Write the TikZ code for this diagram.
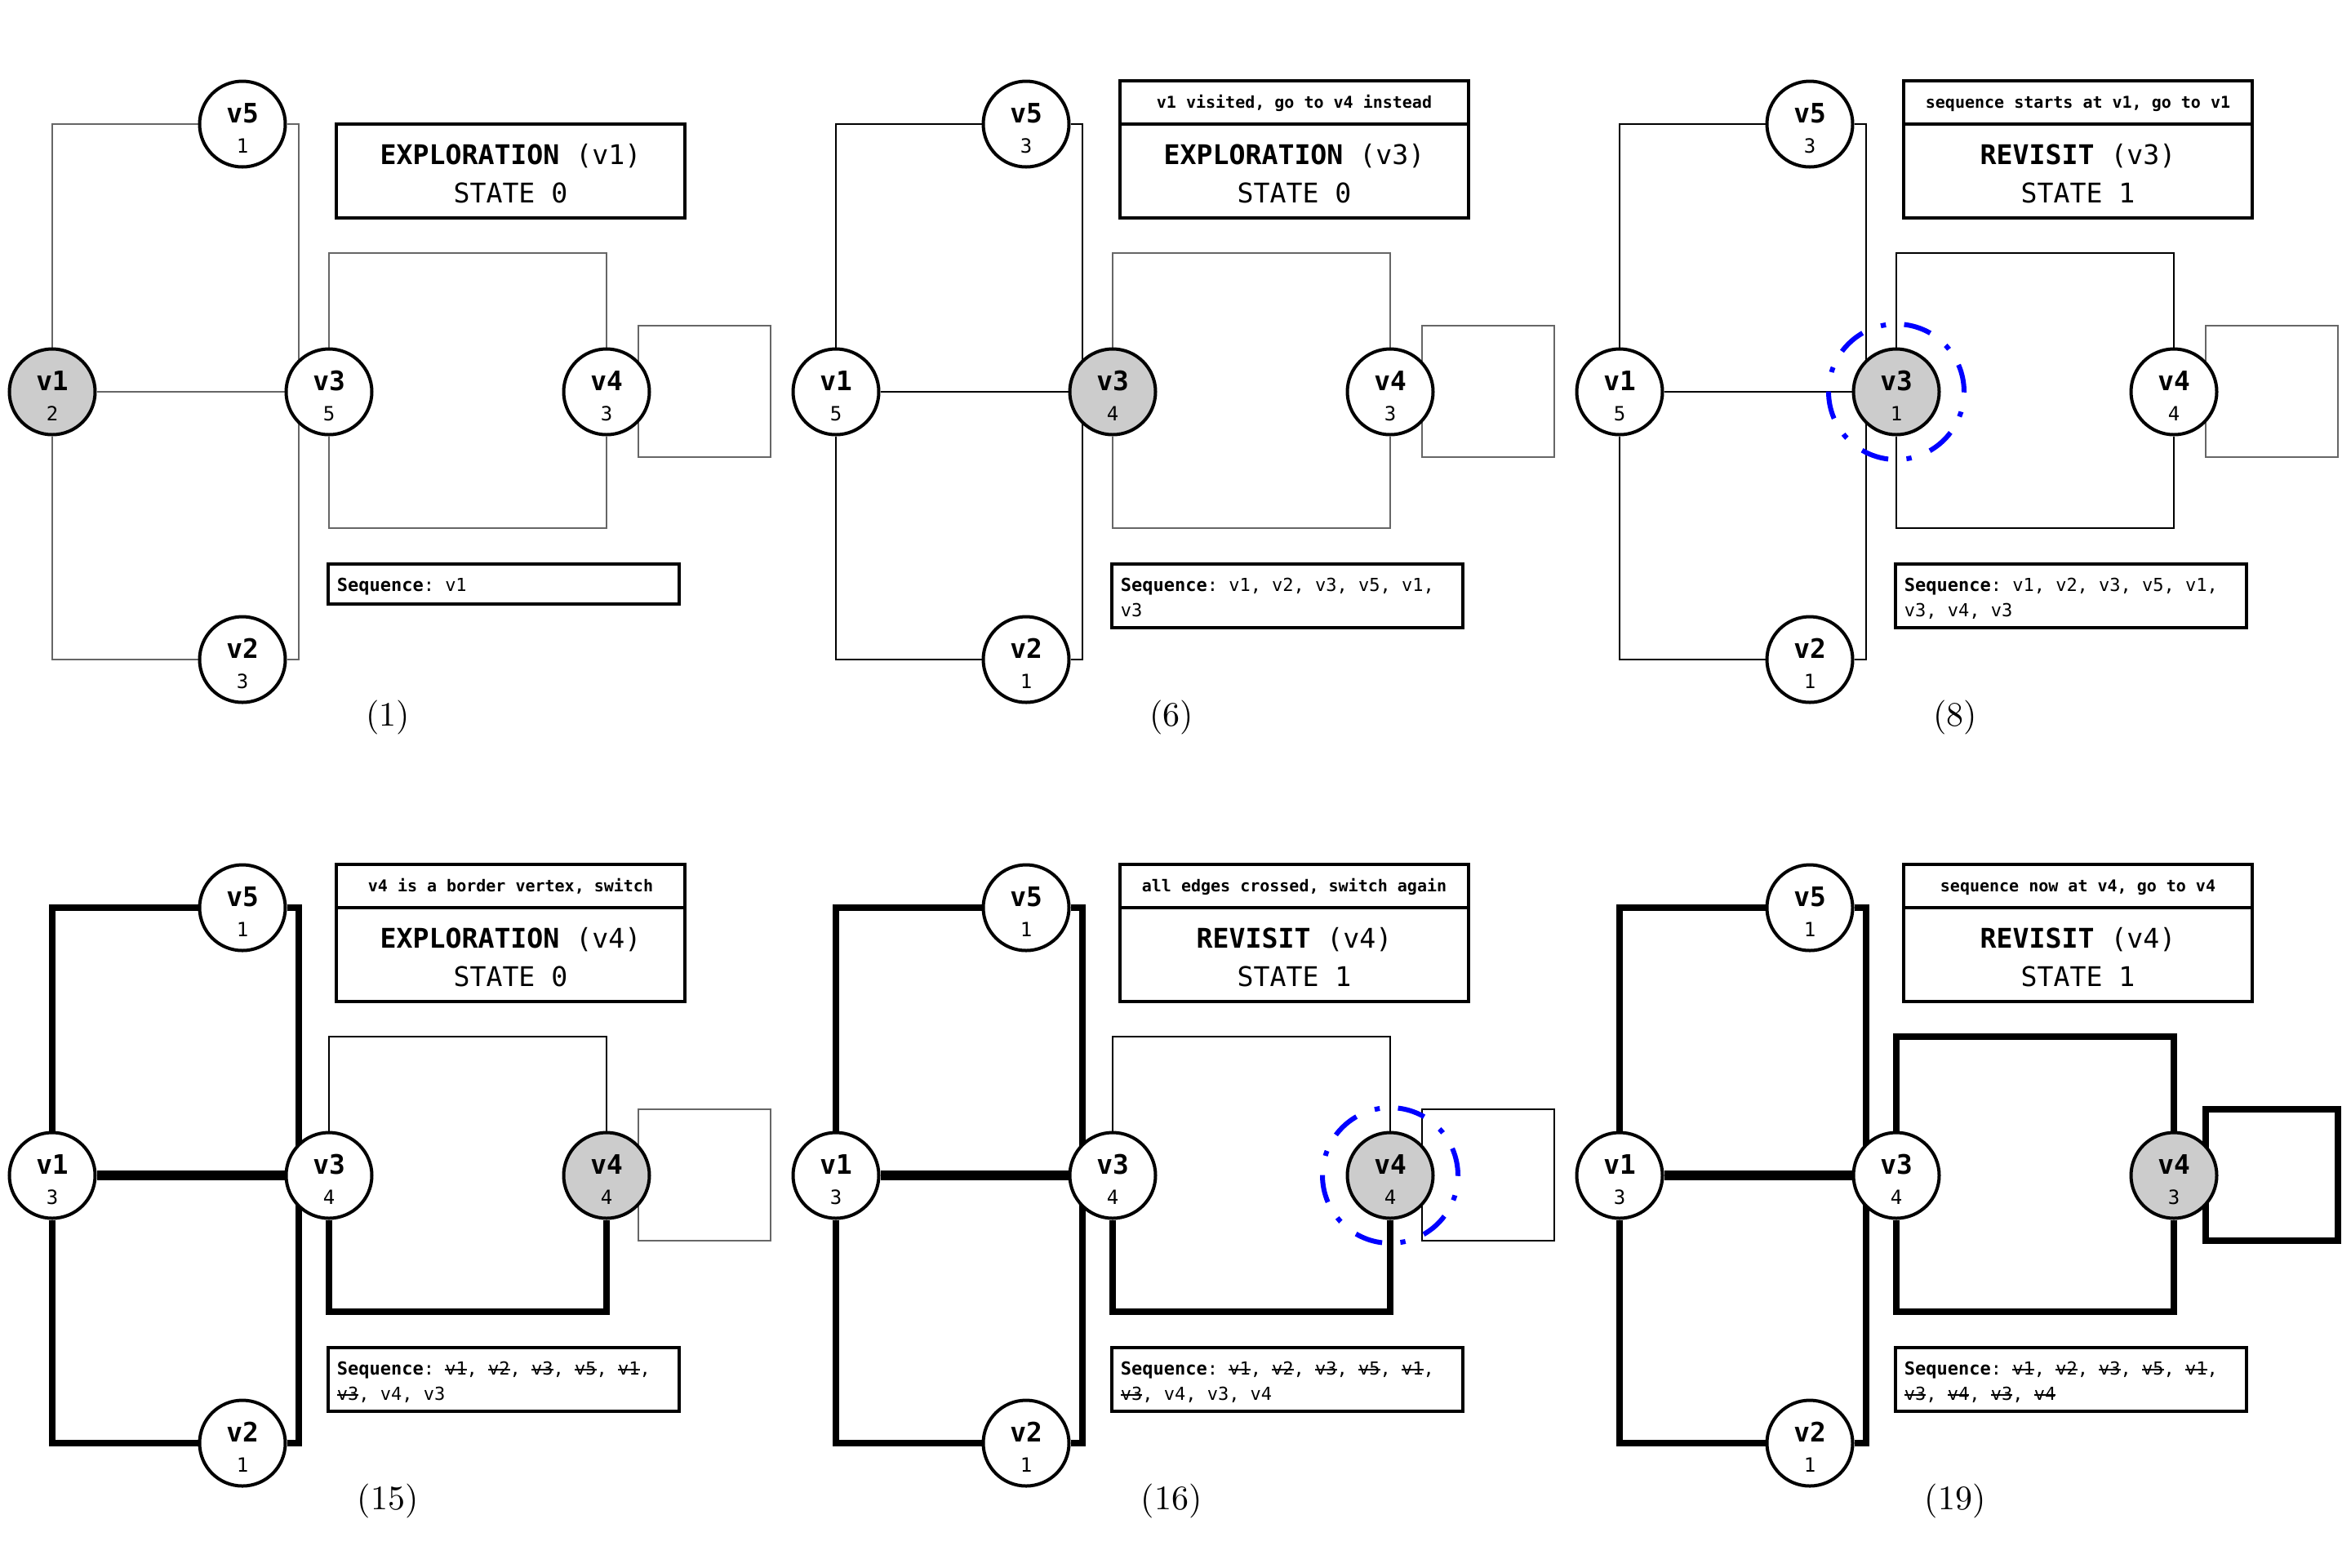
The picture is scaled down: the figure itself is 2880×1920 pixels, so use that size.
\documentclass[tikz,border=0pt]{standalone}
\usepackage{fontspec}
\setmonofont{DejaVu Sans Mono}
\pgfdeclarelayer{bg}
\pgfsetlayers{bg,main}

\newcommand\sk[1]{\makebox[0pt][l]{\rule[0.26em]{1.2em}{0.075em}}#1}

\tikzset{
  vtx/.style={circle, draw, line width=1pt, fill=white, minimum size=26.25pt, inner sep=0pt},
  vname/.style={font=\ttfamily\bfseries\fontsize{8.2}{9}\selectfont, anchor=base, inner sep=0pt},
  vnum/.style={font=\ttfamily\fontsize{6}{7}\selectfont, anchor=base, inner sep=0pt},
  eU/.style={draw=black!60, line width=0.28pt},
  eV/.style={draw=black, line width=0.7pt},
  eC/.style={draw=black, line width=1.85pt},
  eCC/.style={draw=black, line width=2.9pt},
  mainbox/.style={rectangle, draw, line width=1pt, minimum width=106.75pt, minimum height=28.75pt, inner sep=0pt, outer sep=0pt},
  hdrbox/.style={rectangle, draw, line width=1pt, minimum width=106.75pt, minimum height=13.25pt, inner sep=0pt, outer sep=0pt},
  seqbox/.style={rectangle, draw, line width=1pt, minimum width=107.5pt, anchor=north west, inner sep=0pt, outer sep=0pt},
  ttl/.style={font=\ttfamily\fontsize{8.3}{10}\selectfont, anchor=base, inner sep=0pt},
  hdr/.style={font=\ttfamily\bfseries\fontsize{5}{6}\selectfont, anchor=base, inner sep=0pt},
  seq/.style={font=\ttfamily\fontsize{5.5}{6.5}\selectfont, anchor=base west, inner sep=0pt},
  caption/.style={font=\fontsize{10.5}{12}\selectfont, inner sep=0pt},
  ring/.style={draw=blue, line width=1.5pt, dash pattern=on 8.5pt off 5.6pt on 1.6pt off 6pt},
}

% vertex: prefix, name, x, y, number
\newcommand\V[5]{%
  \node[vtx, st#2] (#1#2) at (#3,#4) {};
  \node[vname] (#1#2n) at (#3,#4-2) {#2};
  \node[vnum] (#1#2c) at (#3,#4+35) {#5};
}

% nodes of a panel: prefix, shift, numbers v1..v5, current vertex
\newcommand\Nodes[8]{%
  \tikzset{stv1/.style={}, stv2/.style={}, stv3/.style={}, stv4/.style={}, stv5/.style={}, st#8/.style={fill=black!20}}%
  \begin{scope}[shift={(#2)}]
    \V{#1}{v1}{64}{480}{#3}
    \V{#1}{v2}{297}{808}{#4}
    \V{#1}{v3}{403}{480}{#5}
    \V{#1}{v4}{743}{480}{#6}
    \V{#1}{v5}{297}{152}{#7}
    \coordinate (#1j) at (366,480);
    \coordinate (#1t) at (573,310);
    \coordinate (#1b) at (573,647);
    \coordinate (#1la) at (782,399);
    \coordinate (#1lb) at (944,560);
  \end{scope}
}

% edges: prefix, left style, v1v3 style, top style, bottom style, loop style
\newcommand\Edges[6]{%
  \begin{pgfonlayer}{bg}
    \draw[#2] (#1v1) |- (#1v5);
    \draw[#2] (#1v1) |- (#1v2);
    \draw[#2] (#1v5) -| (#1j);
    \draw[#2] (#1v2) -| (#1j);
    \draw[#3] (#1v1) -- (#1v3);
    \draw[#4] (#1v3) |- (#1t) -| (#1v4);
    \draw[#5] (#1v3) |- (#1b) -| (#1v4);
    \draw[#6] (#1la) rectangle (#1lb);
  \end{pgfonlayer}
}

% info: prefix, shift, header, mode, vertex, state, seq line 1, seq line 2, caption
\newcommand\Info[9]{%
  \begin{scope}[shift={(#2)}]
    \node[mainbox] (#1mb) at (625.5,209.5) {};
    \node[ttl] (#1tt) at (625.5,201) {\textbf{#4} (#5)};
    \node[ttl] (#1ts) at (625.5,248) {STATE #6};
    \if\relax\detokenize{#3}\relax\else
      \node[hdrbox] (#1hb) at (625.5,125.5) {};
      \node[hdr] (#1ht) at (625.5,132.5) {#3};
    \fi
    \if\relax\detokenize{#8}\relax
      \node[seqbox, minimum height=12.25pt] (#1sb) at (402,691) {};
    \else
      \node[seqbox, minimum height=19.5pt] (#1sb) at (402,691) {};
      \node[seq] (#1s2) at (412,755.5) {#8};
    \fi
    \node[seq] (#1s1) at (412,724.5) {\textbf{Sequence}: #7};
    \node[caption] (#1cap) at (475,879) {(#9)};
  \end{scope}
}

\begin{document}
\begin{tikzpicture}[x=0.25pt, y=-0.25pt]
\begin{pgfonlayer}{bg}
  \fill[white] (0,0) rectangle (2880,1920);
\end{pgfonlayer}
\useasboundingbox (0,0) rectangle (2880,1920);

% (1)
\Nodes{a}{0,0}{2}{3}{5}{3}{1}{v1}
\Edges{a}{eU}{eU}{eU}{eU}{eU}
\Info{a}{0,0}{}{EXPLORATION}{v1}{0}{v1}{}{1}

% (6)
\Nodes{b}{960,0}{5}{1}{4}{3}{3}{v3}
\Edges{b}{eV}{eV}{eU}{eU}{eU}
\Info{b}{960,0}{v1 visited, go to v4 instead}{EXPLORATION}{v3}{0}{v1, v2, v3, v5, v1,}{v3}{6}

% (8)
\Nodes{c}{1920,0}{5}{1}{1}{4}{3}{v3}
\Edges{c}{eV}{eV}{eV}{eV}{eU}
\Info{c}{1920,0}{sequence starts at v1, go to v1}{REVISIT}{v3}{1}{v1, v2, v3, v5, v1,}{v3, v4, v3}{8}
\draw[ring] (cv3.center) circle[radius=20.75pt];

% (15)
\Nodes{d}{0,960}{3}{1}{4}{4}{1}{v4}
\Edges{d}{eC}{eCC}{eV}{eC}{eU}
\Info{d}{0,960}{v4 is a border vertex, switch}{EXPLORATION}{v4}{0}{\sk{v1}, \sk{v2}, \sk{v3}, \sk{v5}, \sk{v1},}{\sk{v3}, v4, v3}{15}

% (16)
\Nodes{e}{960,960}{3}{1}{4}{4}{1}{v4}
\Edges{e}{eC}{eCC}{eV}{eC}{eV}
\Info{e}{960,960}{all edges crossed, switch again}{REVISIT}{v4}{1}{\sk{v1}, \sk{v2}, \sk{v3}, \sk{v5}, \sk{v1},}{\sk{v3}, v4, v3, v4}{16}
\draw[ring] (ev4.center) circle[radius=20.75pt];

% (19)
\Nodes{f}{1920,960}{3}{1}{4}{3}{1}{v4}
\Edges{f}{eC}{eCC}{eC}{eC}{eC}
\Info{f}{1920,960}{sequence now at v4, go to v4}{REVISIT}{v4}{1}{\sk{v1}, \sk{v2}, \sk{v3}, \sk{v5}, \sk{v1},}{\sk{v3}, \sk{v4}, \sk{v3}, \sk{v4}}{19}

\end{tikzpicture}
\end{document}
